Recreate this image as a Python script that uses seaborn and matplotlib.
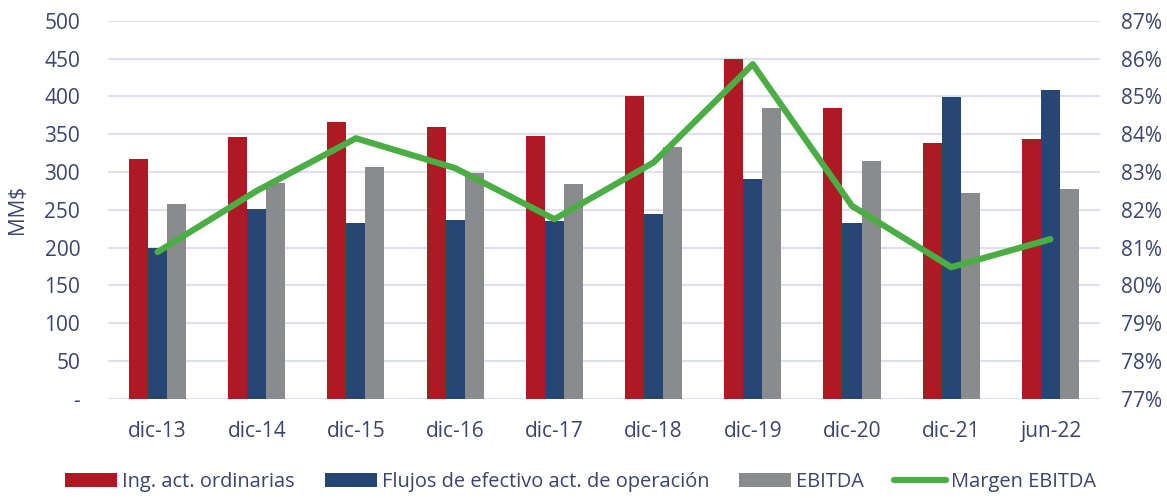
import matplotlib
matplotlib.use("Agg")
import matplotlib.pyplot as plt
import seaborn as sns
import numpy as np
import pandas as pd
from matplotlib.patches import Patch
from matplotlib.lines import Line2D
from matplotlib.ticker import FuncFormatter

categories = ["dic-13", "dic-14", "dic-15", "dic-16", "dic-17", "dic-18", "dic-19", "dic-20", "dic-21", "jun-22"]
ingresos = [317, 346, 366, 359, 347, 400, 449, 384, 338, 343]
flujos = [200, 251, 232, 236, 235, 244, 291, 232, 399, 408]
ebitda = [257, 285, 307, 298, 284, 333, 385, 315, 272, 278]
margen = [80.88, 82.5, 83.89, 83.1, 81.75, 83.25, 85.85, 82.1, 80.48, 81.22]

series_names = ["Ing. act. ordinarias", "Flujos de efectivo act. de operación", "EBITDA"]
line_name = "Margen EBITDA"
colors = ["#AE1923", "#284673", "#8A8B8D"]
green = "#4BAE45"
text_color = "#3B4371"
grid_color = "#DDE0EE"

df = pd.DataFrame({
    "cat": categories * 3,
    "serie": sum([[s] * len(categories) for s in series_names], []),
    "valor": ingresos + flujos + ebitda,
})

sns.set_theme(style="white")
plt.rcParams['font.family'] = ['Open Sans', 'DejaVu Sans']

fig = plt.figure(figsize=(11.67, 4.98), dpi=100)
ax = fig.add_axes([0.0925, 0.1994, 0.8501, 0.7590])

sns.barplot(data=df, x="cat", y="valor", hue="serie", hue_order=series_names,
            palette=colors, width=0.575, gap=0, ax=ax, legend=False,
            edgecolor="none", linewidth=0, saturation=1)
ax.set_ylim(0, 500)
ax.set_yticks(np.arange(0, 501, 50))
ax.yaxis.set_major_formatter(FuncFormatter(lambda v, p: "-" if v == 0 else f"{int(v)}"))
ax.set_xlim(-0.5, len(categories) - 0.5)
ax.grid(axis="y", color=grid_color, linewidth=1.5)
ax.set_axisbelow(True)
for s in ax.spines.values():
    s.set_visible(False)
ax.set_xlabel("")
ax.set_ylabel("MM$", color=text_color, fontsize=15, labelpad=12)
ax.tick_params(axis="y", colors=text_color, labelsize=15, length=0, pad=20)
ax.tick_params(axis="x", colors=text_color, labelsize=15, length=0, pad=16)

ax2 = ax.twinx()
sns.lineplot(x=np.arange(len(categories)), y=margen, ax=ax2, color=green, linewidth=4.5)
ax2.set_ylim(77, 87)
ax2.set_yticks(np.arange(77, 88, 1))
ax2.yaxis.set_major_formatter(FuncFormatter(lambda v, p: f"{int(round(v))}%"))
ax2.tick_params(axis="y", colors=text_color, labelsize=15, length=0, pad=15)
for s in ax2.spines.values():
    s.set_visible(False)
ax2.set_ylabel("")
ax2.grid(False)

handles = [Patch(facecolor=c, edgecolor="none") for c in colors] + [Line2D([0], [0], color=green, linewidth=4.5)]
labels = series_names + [line_name]
leg = fig.legend(handles, labels, loc="center", bbox_to_anchor=(0.4974, 0.032), ncol=4,
                 frameon=False, fontsize=14.4, handlelength=2.6, handleheight=0.65,
                 columnspacing=1.5, handletextpad=0.25, labelcolor=text_color)

fig.savefig("out.png", dpi=100)
